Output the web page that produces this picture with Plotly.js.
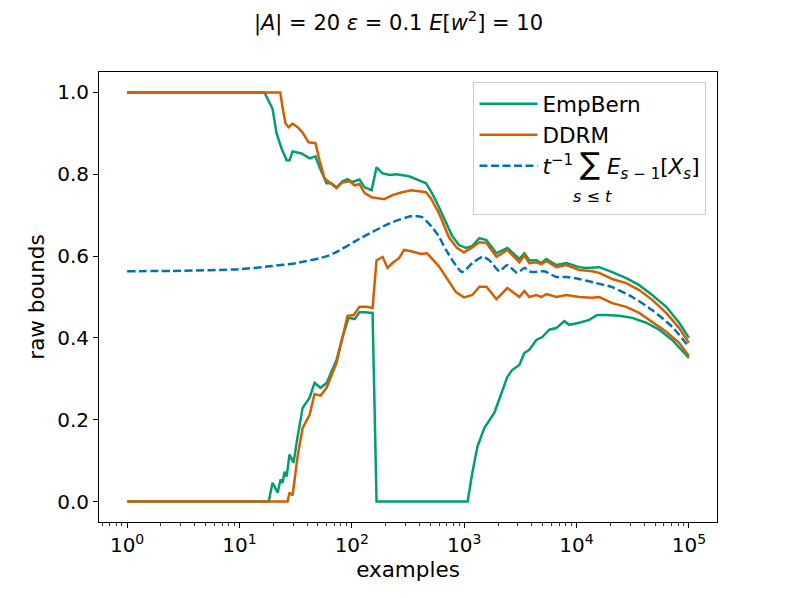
<!DOCTYPE html>
<html>
<head>
<meta charset="utf-8">
<script src="https://cdn.plot.ly/plotly-3.0.1.min.js"></script>
<style>html,body{margin:0;padding:0;background:#fff;}#chart{width:797px;height:598px;}</style>
</head>
<body>
<div id="chart"></div>
<script>
// EmpBern upper bound
const empHiX = [1, 16.7, 19.7, 21.4, 23.7, 26.3, 27.9, 29.7, 35.7, 42.1, 47.5, 51.6, 59.6, 65.9, 73.1, 82.6, 91.6, 101, 117, 130, 150, 166, 188, 217, 250, 323, 373, 458, 517, 596, 778, 898, 1037, 1183, 1365, 1578, 1936, 2423, 3097, 3430, 3801, 4383, 4858, 5383, 6607, 8112, 10570, 12200, 15920, 20760, 27680, 36120, 47100, 62830, 81900, 100000];
const empHiY = [1, 1, 0.96, 0.90, 0.863, 0.834, 0.834, 0.856, 0.851, 0.839, 0.844, 0.817, 0.778, 0.778, 0.768, 0.783, 0.788, 0.781, 0.787, 0.768, 0.761, 0.817, 0.802, 0.798, 0.800, 0.795, 0.788, 0.778, 0.754, 0.720, 0.650, 0.627, 0.620, 0.625, 0.644, 0.639, 0.607, 0.620, 0.593, 0.607, 0.590, 0.590, 0.583, 0.593, 0.578, 0.583, 0.573, 0.571, 0.573, 0.561, 0.546, 0.529, 0.505, 0.476, 0.437, 0.400];
// EmpBern lower bound
const empLoX = [1, 18.2, 19.7, 21.9, 23.2, 24.2, 25.2, 26.3, 27.9, 30.3, 32.9, 36.5, 42.1, 46.6, 52.7, 59.6, 73.1, 82.6, 93.5, 106, 117, 130, 153, 166, 1074, 1183, 1310, 1514, 1857, 2057, 2423, 2682, 3097, 3430, 3801, 4383, 4959, 5723, 6607, 7786, 8615, 10570, 12970, 15280, 18360, 23970, 31270, 41690, 54420, 71000, 100000];
const empLoY = [0, 0, 0.046, 0.022, 0.054, 0.046, 0.073, 0.061, 0.115, 0.095, 0.158, 0.229, 0.254, 0.290, 0.278, 0.290, 0.346, 0.402, 0.449, 0.446, 0.463, 0.463, 0.461, 0, 0, 0.071, 0.134, 0.180, 0.217, 0.249, 0.305, 0.322, 0.334, 0.363, 0.371, 0.395, 0.402, 0.420, 0.424, 0.441, 0.432, 0.437, 0.444, 0.456, 0.456, 0.454, 0.449, 0.437, 0.420, 0.395, 0.351];
// DDRM upper bound
const ddrmHiX = [1, 23.1, 24.2, 25.7, 27.4, 29.7, 32.9, 36.5, 41.2, 47.5, 51.6, 57.2, 63.4, 73.1, 82.6, 95.4, 106, 117, 130, 150, 195, 230, 280, 337, 458, 506, 596, 731, 862, 995, 1159, 1365, 1578, 1936, 2423, 3097, 3430, 3801, 4383, 4858, 5383, 6607, 8112, 10570, 13790, 15920, 20760, 27680, 36120, 47100, 62830, 81900, 100000];
const ddrmHiY = [1, 1, 0.963, 0.924, 0.915, 0.924, 0.915, 0.902, 0.878, 0.876, 0.834, 0.790, 0.780, 0.766, 0.780, 0.783, 0.773, 0.776, 0.754, 0.744, 0.739, 0.749, 0.756, 0.761, 0.756, 0.741, 0.705, 0.646, 0.620, 0.609, 0.620, 0.634, 0.632, 0.598, 0.615, 0.585, 0.602, 0.583, 0.585, 0.580, 0.588, 0.573, 0.578, 0.566, 0.563, 0.559, 0.544, 0.534, 0.517, 0.493, 0.461, 0.424, 0.388];
// DDRM lower bound
const ddrmLoX = [1, 26.8, 27.9, 29.7, 32.9, 36.5, 42.1, 46.6, 52.7, 59.6, 73.1, 91.6, 104, 117, 135, 153, 166, 188, 208, 230, 263, 292, 337, 413, 467, 596, 845, 995, 1183, 1365, 1578, 1936, 2423, 3097, 3430, 3801, 4383, 4858, 5383, 6607, 8112, 10570, 13790, 15920, 20760, 27680, 36120, 47100, 62830, 81900, 100000];
const ddrmLoY = [0, 0, 0.022, 0.015, 0.110, 0.180, 0.212, 0.263, 0.259, 0.278, 0.339, 0.454, 0.456, 0.476, 0.476, 0.473, 0.590, 0.598, 0.571, 0.583, 0.595, 0.615, 0.612, 0.605, 0.607, 0.575, 0.512, 0.499, 0.505, 0.525, 0.525, 0.495, 0.522, 0.500, 0.515, 0.500, 0.505, 0.500, 0.507, 0.500, 0.505, 0.500, 0.498, 0.500, 0.485, 0.476, 0.461, 0.439, 0.415, 0.388, 0.356];
// running mean of conditional expectations
const meanX = [1, 3, 10, 18.5, 32.2, 63.4, 124, 217, 344, 422, 517, 596, 689, 955, 1183, 1452, 1675, 2057, 2423, 2971, 3430, 3957, 5165, 6607, 8112, 10570, 14970, 20760, 31270, 47100, 71000, 100000];
const meanY = [0.563, 0.564, 0.568, 0.575, 0.583, 0.602, 0.646, 0.680, 0.698, 0.695, 0.671, 0.648, 0.615, 0.561, 0.583, 0.598, 0.590, 0.563, 0.578, 0.559, 0.571, 0.561, 0.563, 0.549, 0.549, 0.544, 0.534, 0.524, 0.500, 0.468, 0.427, 0.378];

const xTickVals = [1, 10, 100, 1000, 10000, 100000];
const xTickText = ['10<sup>0</sup>', '10<sup>1</sup>', '10<sup>2</sup>', '10<sup>3</sup>', '10<sup>4</sup>', '10<sup>5</sup>'];
const yTickVals = [0, 0.2, 0.4, 0.6, 0.8, 1.0];

const GREEN = '#009E73', ORANGE = '#D55E00', BLUE = '#0072B2';
const FONT = 'DejaVu Sans, sans-serif';
const NB = '\u00A0';

const meanName = '<i>t</i><sup>−1</sup>' + NB + '<span style="font-size:30px">∑</span>' + NB + '<i>E</i><sub><i>s</i> − 1</sub>[<i>X</i><sub><i>s</i></sub>]' +
  '<br><span style="font-size:16px">' + NB.repeat(6) + '<i>s</i> ≤ <i>t</i></span>';

const traces = [
  {x: empHiX, y: empHiY, mode: 'lines', name: 'EmpBern', legendgroup: 'emp', line: {color: GREEN, width: 2.5}},
  {x: empLoX, y: empLoY, mode: 'lines', name: 'EmpBern', legendgroup: 'emp', showlegend: false, line: {color: GREEN, width: 2.5}},
  {x: ddrmHiX, y: ddrmHiY, mode: 'lines', name: 'DDRM', legendgroup: 'ddrm', line: {color: ORANGE, width: 2.5}},
  {x: ddrmLoX, y: ddrmLoY, mode: 'lines', name: 'DDRM', legendgroup: 'ddrm', showlegend: false, line: {color: ORANGE, width: 2.5}},
  {x: meanX, y: meanY, mode: 'lines', line: {color: BLUE, width: 2.5, dash: '8px,3.5px', shape: 'spline', smoothing: 0.6},
   name: meanName}
];

const layout = {
  width: 797, height: 598,
  paper_bgcolor: '#fff', plot_bgcolor: '#fff',
  font: {family: FONT, size: 20, color: '#000'},
  margin: {l: 98.5, r: 79.5, t: 71.5, b: 75.5},
  title: {text: '|<i>A</i>| = 20 <i>ε</i> = 0.1 <i>E</i>[<i>w</i><sup>2</sup>] = 10', x: 0.5, xref: 'container', xanchor: 'center', y: 0.962, yref: 'container', yanchor: 'middle', font: {family: FONT, size: 21}},
  xaxis: {
    type: 'log', range: [-0.25, 5.25], showgrid: false, zeroline: false,
    showline: true, linecolor: '#000', linewidth: 1, mirror: true,
    ticks: 'outside', ticklen: 5, tickwidth: 1, tickcolor: '#000',
    tickmode: 'array', tickvals: xTickVals, ticktext: xTickText,
    tickfont: {size: 20},
    minor: {ticks: 'outside', ticklen: 3, tickwidth: 0.8, tickcolor: '#000', dtick: 'D1', showgrid: false},
    title: {text: 'examples', font: {size: 21.5}, standoff: 4}
  },
  yaxis: {
    range: [-0.05, 1.05], showgrid: false, zeroline: false,
    showline: true, linecolor: '#000', linewidth: 1, mirror: true,
    ticks: 'outside', ticklen: 5, tickwidth: 1, tickcolor: '#000',
    tickmode: 'array', tickvals: yTickVals, tickformat: '.1f',
    tickfont: {size: 20},
    title: {text: 'raw bounds', font: {size: 21.5}, standoff: 6}
  },
  legend: {
    x: 0.983, y: 0.977, xanchor: 'right', yanchor: 'top',
    bgcolor: 'rgba(255,255,255,0.8)', bordercolor: '#cccccc', borderwidth: 1,
    font: {size: 21.5}, itemwidth: 58, tracegroupgap: 0, valign: 'top'
  },
  showlegend: true
};

Plotly.newPlot('chart', traces, layout, {displayModeBar: false, staticPlot: true});
</script>
</body>
</html>
